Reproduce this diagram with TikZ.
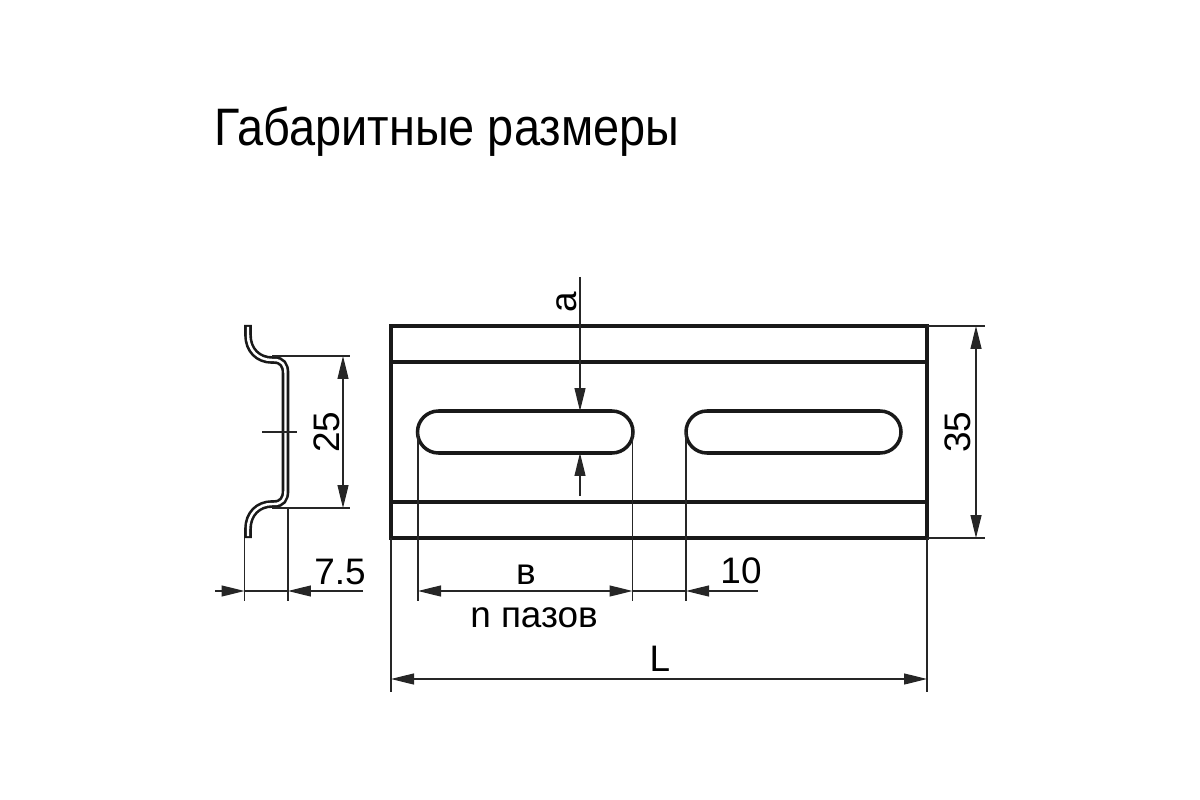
\documentclass[tikz,border=0pt]{standalone}
\usepackage{fontspec}
\setmainfont{Liberation Sans}
\usetikzlibrary{arrows.meta}
\newcommand{\dimextent}[2]{
    \draw[dimthin] (#1) -- (#2);
}
\tikzset{
    dimthin/.style={line width=0.7pt, black!85},
    dimline/.style={dimthin, <->, >={Triangle[length=0.46cm, width=0.22cm]}},
    dimend/.style={dimthin, ->, >={Triangle[length=0.46cm, width=0.22cm]}},
    outline/.style={line width=2pt, black!90},
    dimlabel/.style={font=\fontsize{21}{21}\selectfont, inner sep=0pt},
    titlelabel/.style={font=\fontsize{30}{30}\selectfont, inner sep=0pt, xscale=0.89}
}
\begin{document}
\begin{tikzpicture}[x=0.02cm, y=-0.02cm]
    \useasboundingbox (0,0) rectangle (1200,800);
    % --- TITLE ---
    \node[titlelabel] (title) at (447,132) {Габаритные размеры};

    % --- PROFILE (LEFT) ---
    \def\railpath{(248,325) -- (248,335) .. controls (248,350) and (258,360) .. (272,360) -- (274,360) .. controls (282,360) and (285.5,365) .. (285.5,373) -- (285.5,491) .. controls (285.5,499) and (282,504) .. (274,504) -- (272,504) .. controls (258,504) and (248,514) .. (248,529) -- (248,538)}
    \draw[line width=4.4pt, black!90] \railpath;
    \draw[line width=1.4pt, white, shorten <=1pt, shorten >=1pt] \railpath;
    \coordinate (centerl) at (262,432);
    \coordinate (centerr) at (297,432);
    \dimextent{centerl}{centerr}

    % dimension 25
    \coordinate (h25top) at (343,356);
    \coordinate (h25bot) at (343,508);
    \dimextent{272,356}{350,356}
    \dimextent{272,508}{350,508}
    \draw[dimline] (h25top) -- (h25bot);
    \node[dimlabel, rotate=90] (lab25) at (327,432) {25};

    % dimension 7.5
    \coordinate (d75l) at (244.5,591);
    \coordinate (d75r) at (288,591);
    \dimextent{244.5,538}{244.5,601}
    \dimextent{288,508}{288,601}
    \draw[dimend] (215,591) -- (d75l);
    \draw[dimend] (363,591) -- (d75r);
    \draw[dimthin] (d75l) -- (d75r);
    \node[dimlabel] (lab75) at (340,572) {7.5};

    % --- RAIL, FRONT VIEW (RIGHT) ---
    \draw[outline] (391,326) rectangle (927,538);
    \draw[outline] (391,362) -- (927,362);
    \draw[outline] (391,502) -- (927,502);
    \draw[outline, rounded corners=0.42cm] (417.5,411) rectangle (633,453);
    \draw[outline, rounded corners=0.42cm] (686,411) rectangle (901,453);

    % dimension a
    \coordinate (aup) at (580,411);
    \coordinate (adown) at (580,453);
    \draw[dimend] (580,277) -- (aup);
    \draw[dimend] (580,496) -- (adown);
    \node[dimlabel, rotate=90] (laba) at (567,302) {a};

    % dimension 35
    \coordinate (h35top) at (976,326);
    \coordinate (h35bot) at (976,538);
    \dimextent{927,326}{985,326}
    \dimextent{927,538}{985,538}
    \draw[dimline] (h35top) -- (h35bot);
    \node[dimlabel, rotate=90] (lab35) at (958,432) {35};

    % dimensions b and 10
    \coordinate (bl) at (418,591);
    \coordinate (br) at (632.5,591);
    \coordinate (gap) at (686,591);
    \dimextent{418,432}{418,601}
    \dimextent{632.5,432}{632.5,601}
    \dimextent{686,432}{686,601}
    \draw[dimline] (bl) -- (br);
    \draw[dimthin] (br) -- (gap);
    \draw[dimend] (758,591) -- (gap);
    \node[dimlabel] (labb) at (526,575) {в};
    \node[dimlabel] (lab10) at (741,571) {10};
    \node[dimlabel] (labn) at (534,618) {n пазов};

    % dimension L
    \coordinate (ll) at (391,679);
    \coordinate (lr) at (927,679);
    \dimextent{391,538}{391,692}
    \dimextent{927,538}{927,692}
    \draw[dimline] (ll) -- (lr);
    \node[dimlabel] (labl) at (660,659) {L};
\end{tikzpicture}
\end{document}
